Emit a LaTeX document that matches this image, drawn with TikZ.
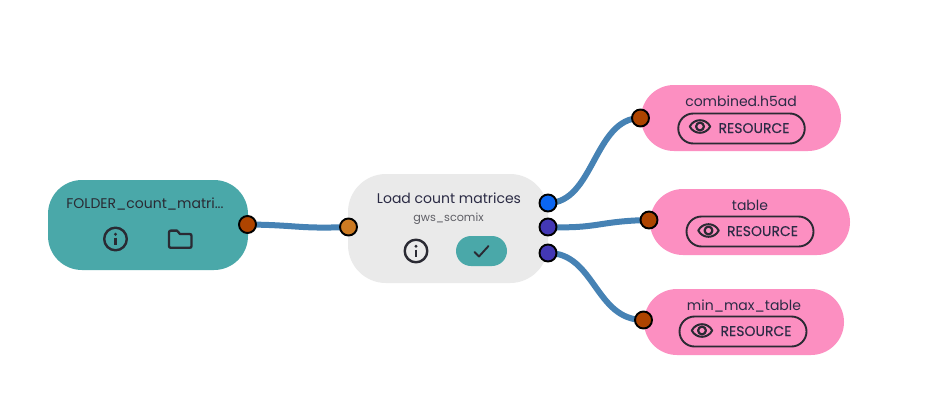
\documentclass[tikz,border=0pt]{standalone}
\usepackage{fontspec}
\setmainfont{Poppins}
\usetikzlibrary{backgrounds}
\definecolor{tealcard}{HTML}{4AA8A9}
\definecolor{greycard}{HTML}{EAEAEA}
\definecolor{pinkcard}{HTML}{FC8FC1}
\definecolor{inkdark}{HTML}{2A2A33}
\definecolor{inktitle}{HTML}{2B2B45}
\definecolor{wire}{HTML}{4682B4}
\definecolor{portrust}{HTML}{AE4400}
\definecolor{portamber}{HTML}{CC7A22}
\definecolor{portblue}{HTML}{0A66F2}
\definecolor{portindigo}{HTML}{4338B5}
\tikzset{
  card/.style={rectangle,rounded corners=#1,inner sep=0pt,minimum width=200pt,draw=none},
  tealbox/.style={card=34pt,fill=tealcard,minimum height=90pt},
  greybox/.style={card=38pt,fill=greycard,minimum height=109pt},
  pinkbox/.style={card=33pt,fill=pinkcard,minimum height=66pt},
  port/.style={circle,draw=black,line width=1.9pt,inner sep=0pt,minimum size=17pt},
  connector/.style={draw=wire,line width=6pt},
  title/.style={font=\fontsize{14}{16}\selectfont,text=inktitle,inner sep=0pt,anchor=base},
  resbtn/.style={rectangle,rounded corners=15pt,draw=inkdark,line width=1.9pt,inner sep=0pt,minimum height=30pt},
  restext/.style={font=\fontsize{14}{16}\selectfont\medium,text=inktitle,inner sep=0pt,anchor=base},
  statusbtn/.style={rectangle,rounded corners=15pt,fill=tealcard,inner sep=0pt,minimum width=51pt,minimum height=30pt},
  iconline/.style={draw=inkdark,line width=2.1pt,line cap=round,line join=round},
  eye/.pic={
    \draw[iconline,line width=2pt] (-10.2,0) .. controls (-6,-8.4) and (6,-8.4) .. (10.2,0)
      .. controls (6,8.4) and (-6,8.4) .. (-10.2,0) -- cycle;
    \draw[iconline,line width=2.2pt] (0,0) circle (3.9);
  },
  infoicon/.pic={
    \draw[iconline,line width=2.4pt] (0,0) circle (11.3);
    \fill[inkdark] (0,-4.8) circle (1.6);
    \draw[iconline,line cap=butt,line width=2.6pt] (0,-1.4) -- (0,5.6);
  },
}
\newcommand{\medium}{\addfontfeature{FakeBold=0.15}}
\begin{document}
\begin{tikzpicture}[x=1pt,y=-1pt]
\useasboundingbox (0,0) rectangle (928,407);

\begin{pgfonlayer}{background}
  \fill[white] (0,0) rectangle (928,407);
  \node[tealbox] (folder) at (148,225) {};
  \node[greybox] (load) at (448,228.5) {};
  \node[pinkbox] (combined) at (741,118) {};
  \node[pinkbox] (tablecard) at (750,222) {};
  \node[pinkbox] (minmax) at (744,322) {};
\end{pgfonlayer}

% ports
\node[port,fill=portrust] (folderout) at (247.5,224.5) {};
\node[port,fill=portamber] (loadin) at (348.5,227) {};
\node[port,fill=portblue] (loadoutA) at (548,203) {};
\node[port,fill=portindigo] (loadoutB) at (548,227) {};
\node[port,fill=portindigo] (loadoutC) at (548,253) {};
\node[port,fill=portrust] (combinedin) at (640.5,118) {};
\node[port,fill=portrust] (tablein) at (649,220) {};
\node[port,fill=portrust] (minmaxin) at (643.5,320) {};

% connectors
\begin{pgfonlayer}{background}
  \path[connector] (folderout.center) .. controls (298,225) and (298,229) .. (loadin.center);
  \path[connector] (loadoutA.center) .. controls (594,203) and (594,118) .. (combinedin.center);
  \path[connector] (loadoutB.center) .. controls (598,229) and (598,221) .. (tablein.center);
  \path[connector] (loadoutC.center) .. controls (595,253) and (595,320) .. (minmaxin.center);
\end{pgfonlayer}

% folder card
\node[title,text=inkdark] (foldertitle) at (145,208) {FOLDER\_count\_matri...};
\pic at (115.5,239) {infoicon};
\draw[iconline,line width=2.3pt] (169,233) .. controls (169,231.2) and (169.5,230.6) .. (171,230.6)
  -- (177,230.6) -- (180,234) -- (189.5,234) .. controls (191,234) and (191.5,234.5) .. (191.5,236)
  -- (191.5,246) .. controls (191.5,247.3) and (191,247.8) .. (189.5,247.8)
  -- (171,247.8) .. controls (169.5,247.8) and (169,247.3) .. (169,246) -- cycle;

% task card
\node[title] (loadtitle) at (449,203) {Load count matrices};
\node[title,font=\fontsize{11.2}{13}\selectfont,text=inkdark!75] (loadsub) at (448.5,221) {gws\_scomix};
\pic at (416,251) {infoicon};
\node[statusbtn] (status) at (481.5,251) {};
\draw[iconline,line width=1.9pt] (474.5,252) -- (479,256.5) -- (488.5,246);

% output cards
\node[title] (combinedtitle) at (741,106) {combined.h5ad};
\node[resbtn,minimum width=126.5pt] (combinedbtn) at (741.5,128.5) {};
\pic at (700,126.5) {eye};
\node[restext] (combinedres) at (754,133) {RESOURCE};

\node[title] (tabletitle) at (750,210) {table};
\node[resbtn,minimum width=127pt] (tablebtn) at (750,231.5) {};
\pic at (708.5,230.5) {eye};
\node[restext] (tableres) at (762.5,236) {RESOURCE};

\node[title] (minmaxtitle) at (744,310) {min\_max\_table};
\node[resbtn,minimum width=127pt] (minmaxbtn) at (743,331.5) {};
\pic at (702,330.5) {eye};
\node[restext] (minmaxres) at (756,336) {RESOURCE};
\end{tikzpicture}
\end{document}
